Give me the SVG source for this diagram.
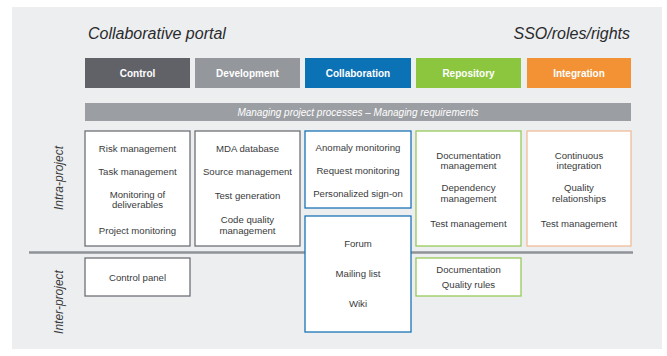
<svg xmlns="http://www.w3.org/2000/svg" width="667" height="356" viewBox="0 0 667 356">
<style>
.t{font-family:"Liberation Sans",Arial,sans-serif;font-size:9.6px;fill:#3a3a3c;text-anchor:middle}
.tab{font-family:"Liberation Sans",Arial,sans-serif;font-size:10px;font-weight:bold;fill:#fff;text-anchor:middle}
.ttl{font-family:"Liberation Sans",Arial,sans-serif;font-size:16px;font-style:italic;fill:#2a2a2c}
.side{font-family:"Liberation Sans",Arial,sans-serif;font-size:12px;font-style:italic;fill:#3a3a3c;text-anchor:middle}
.g{fill:#fff;stroke:#6e7175;stroke-width:1.3}
.b{fill:#fff;stroke:#1b74b6;stroke-width:1.3}
.r{fill:#fff;stroke:#97c95a;stroke-width:1.3}
.o{fill:#fff;stroke:#f0bc98;stroke-width:1.3}
</style>
<rect x="0" y="0" width="667" height="356" fill="#ffffff"/>
<rect x="12" y="7" width="650" height="342" fill="#eceef0"/>
<text class="ttl" x="88" y="39">Collaborative portal</text>
<text class="ttl" x="630" y="39" text-anchor="end">SSO/roles/rights</text>
<g id="tab-control"><rect x="85" y="58" width="105" height="30" fill="#606268"/><text class="tab" x="137.5" y="77">Control</text></g>
<g id="tab-development"><rect x="195" y="58" width="105" height="30" fill="#94979c"/><text class="tab" x="247.5" y="77">Development</text></g>
<g id="tab-collaboration"><rect x="305" y="58" width="106" height="30" fill="#0b72b6"/><text class="tab" x="358" y="77">Collaboration</text></g>
<g id="tab-repository"><rect x="416" y="58" width="105" height="30" fill="#8cc63f"/><text class="tab" x="468.5" y="77">Repository</text></g>
<g id="tab-integration"><rect x="527" y="58" width="104" height="30" fill="#f39235"/><text class="tab" x="579" y="77">Integration</text></g>
<g id="managing-bar"><rect x="85" y="103" width="546" height="18" fill="#9b9ea2"/><text class="t" x="358" y="115.5" style="fill:#fff;font-size:10px;font-style:italic">Managing project processes – Managing requirements</text></g>
<text class="side" transform="translate(63,178) rotate(-90)">Intra-project</text>
<text class="side" transform="translate(63,302) rotate(-90)">Inter-project</text>
<line x1="29" y1="252.5" x2="633" y2="252.5" stroke="#8f9398" stroke-width="2.5"/>
<g id="control-intra"><rect class="g" x="85" y="131" width="105" height="115"/>
<text class="t" x="137.5" y="152">Risk management</text>
<text class="t" x="137.5" y="175">Task management</text>
<text class="t" x="137.5" y="198">Monitoring of</text>
<text class="t" x="137.5" y="208">deliverables</text>
<text class="t" x="137.5" y="234">Project monitoring</text></g>
<g id="development-intra"><rect class="g" x="195" y="131" width="105" height="115"/>
<text class="t" x="247.5" y="152">MDA database</text>
<text class="t" x="247.5" y="175">Source management</text>
<text class="t" x="247.5" y="199">Test generation</text>
<text class="t" x="247.5" y="223">Code quality</text>
<text class="t" x="247.5" y="234">management</text></g>
<g id="collaboration-intra"><rect class="b" x="305" y="131" width="106" height="77"/>
<text class="t" x="358" y="151">Anomaly monitoring</text>
<text class="t" x="358" y="174">Request monitoring</text>
<text class="t" x="358" y="197">Personalized sign-on</text></g>
<g id="collaboration-inter"><rect class="b" x="305" y="216" width="106" height="116"/>
<text class="t" x="358" y="247">Forum</text>
<text class="t" x="358" y="277">Mailing list</text>
<text class="t" x="358" y="307">Wiki</text></g>
<g id="repository-intra"><rect class="r" x="416" y="131" width="105" height="115"/>
<text class="t" x="468.5" y="159">Documentation</text>
<text class="t" x="468.5" y="169">management</text>
<text class="t" x="468.5" y="191">Dependency</text>
<text class="t" x="468.5" y="202">management</text>
<text class="t" x="468.5" y="227">Test management</text></g>
<g id="integration-intra"><rect class="o" x="527" y="131" width="104" height="115"/>
<text class="t" x="579" y="159">Continuous</text>
<text class="t" x="579" y="169">integration</text>
<text class="t" x="579" y="191">Quality</text>
<text class="t" x="579" y="202">relationships</text>
<text class="t" x="579" y="227">Test management</text></g>
<g id="control-inter"><rect class="g" x="85" y="258" width="105" height="38"/>
<text class="t" x="137.5" y="281">Control panel</text></g>
<g id="repository-inter"><rect class="r" x="416" y="258" width="105" height="38"/>
<text class="t" x="468.5" y="273">Documentation</text>
<text class="t" x="468.5" y="288">Quality rules</text></g>
</svg>
